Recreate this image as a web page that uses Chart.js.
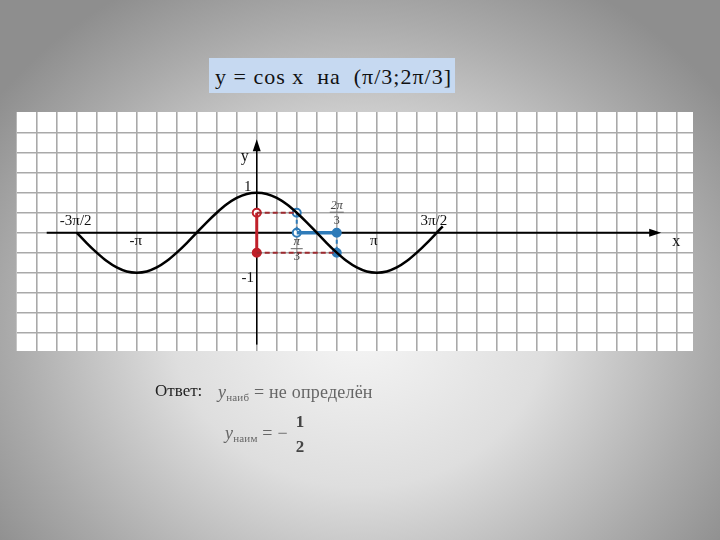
<!DOCTYPE html>
<html>
  <head>
    <meta charset="utf-8">
    <title>y = cos x</title>
    <style>
      body {
        margin: 0;
        width: 720px;
        height: 540px;
        overflow: hidden;
        position: relative;
        font-family: "Liberation Serif", "DejaVu Serif", serif;
        background: radial-gradient(ellipse 62% 72% at 50% 60%, #f6f6f6 0%, #dedede 42%, #ababab 78%, #8e8e8e 100%);
      }

      #chart{
        position: absolute;
        left: 0;
        top: 0;
      }

      .title{
        position: absolute;
        left: 209px;
        top: 58px;
        width: 246px;
        height: 35px;
        background-color: #c6d9f1;
        box-sizing: border-box;
        font-size: 22px;
        letter-spacing: 1px;
        line-height: 37px;
        padding-left: 6px;
        color: #111;
        white-space: pre;
      }

      .answer{
        position: absolute;
        left: 155px;
        top: 381px;
        font-size: 17px;
        color: #222;
      }

      .eq{
        position: absolute;
        font-size: 18px;
        color: #666;
        white-space: nowrap;
        letter-spacing: 0.2px;
      }

      .eq i{ font-size: 18px; }
      .eq sub{ font-size: 11px; vertical-align: -3px; }

      .frac{
        position: absolute;
        left: 294px;
        top: 409px;
        width: 12px;
        text-align: center;
        font-size: 17px;
        font-weight: bold;
        color: #444;
        line-height: 25px;
      }
    </style>
  </head>
  <body>
    <canvas id="chart" width="720" height="540"></canvas>
    <div class="title">y = cos x  на  (π/3;2π/3]</div>
    <div class="answer">Ответ:</div>
    <div class="eq" style="left:218px; top:382px;"><i>y</i><sub>наиб</sub> = не определён</div>
    <div class="eq" style="left:225px; top:423px;"><i>y</i><sub>наим</sub> = −</div>
    <div class="frac">1<br>2</div>

    <script src="https://cdn.jsdelivr.net/npm/chart.js"></script>
    <script>
      // x values are in units of pi
      var curveX = [-1.5, -1.4167, -1.3333, -1.25, -1.1667, -1.0833, -1, -0.9167, -0.8333, -0.75, -0.6667, -0.5833,
                    -0.5, -0.4167, -0.3333, -0.25, -0.1667, -0.0833, 0, 0.0833, 0.1667, 0.25, 0.3333, 0.4167,
                    0.5, 0.5833, 0.6667, 0.75, 0.8333, 0.9167, 1, 1.0833, 1.1667, 1.25, 1.3333, 1.4167, 1.5, 1.55]
      var curveY = [0, -0.26, -0.5, -0.71, -0.87, -0.97, -1, -0.97, -0.87, -0.71, -0.5, -0.26,
                    0, 0.26, 0.5, 0.71, 0.87, 0.97, 1, 0.97, 0.87, 0.71, 0.5, 0.26,
                    0, -0.26, -0.5, -0.71, -0.87, -0.97, -1, -0.97, -0.87, -0.71, -0.5, -0.26, 0, 0.16]

      var intervalX = [1/3, 2/3]
      var intervalY = [0.5, -0.5]

      var xLabelValues = [-1.5, -1, 1, 1.5]
      var xLabelTexts = ['-3π/2', '-π', 'π', '3π/2']
      var yLabelValues = [1, -1]
      var yLabelTexts = ['1', '-1']

      var xMin = -2, xMax = 3.635
      var yMin = -2.96, yMax = 3.02

      var red = '#c0202a'
      var darkRed = '#9c2a2f'
      var blue = '#2f7bb8'

      function seg(x1, y1, x2, y2, color, width, dash) {
        return {
          type: 'line',
          data: [{x: x1, y: y1}, {x: x2, y: y2}],
          borderColor: color,
          borderWidth: width,
          borderDash: dash || [],
          pointRadius: 0,
          fill: false
        }
      }

      function pts(list, color, filled) {
        return {
          type: 'scatter',
          data: list,
          pointRadius: 4,
          pointBorderWidth: 2,
          pointBorderColor: color,
          pointBackgroundColor: filled ? color : '#ffffff'
        }
      }

      // axes, arrows and labels
      const drawAxes = {
        id: 'drawAxes',
        beforeDraw(chart) {
          const {ctx, chartArea} = chart;
          ctx.save();
          ctx.fillStyle = '#ffffff';
          ctx.fillRect(chartArea.left, chartArea.top, chartArea.right - chartArea.left, chartArea.bottom - chartArea.top);
          ctx.restore();
        },
        beforeDatasetsDraw(chart) {
          const {ctx, scales: {x, y}} = chart;
          const x0 = x.getPixelForValue(0);
          const y0 = y.getPixelForValue(0);
          ctx.save();
          ctx.strokeStyle = '#000';
          ctx.fillStyle = '#000';
          ctx.lineWidth = 2;
          ctx.beginPath();
          ctx.moveTo(x.getPixelForValue(-1.75), y0);
          ctx.lineTo(x.getPixelForValue(3.3), y0);
          ctx.stroke();
          ctx.beginPath();
          ctx.moveTo(x.getPixelForValue(3.37), y0);
          ctx.lineTo(x.getPixelForValue(3.37) - 12, y0 - 4);
          ctx.lineTo(x.getPixelForValue(3.37) - 12, y0 + 4);
          ctx.closePath();
          ctx.fill();

          ctx.lineWidth = 1.5;
          ctx.beginPath();
          ctx.moveTo(x0, y.getPixelForValue(-2.8));
          ctx.lineTo(x0, y.getPixelForValue(2.15));
          ctx.stroke();
          ctx.beginPath();
          ctx.moveTo(x0, y.getPixelForValue(2.34));
          ctx.lineTo(x0 - 4, y.getPixelForValue(2.34) + 12);
          ctx.lineTo(x0 + 4, y.getPixelForValue(2.34) + 12);
          ctx.closePath();
          ctx.fill();
          ctx.restore();
        },
        afterDatasetsDraw(chart) {
          const {ctx, scales: {x, y}} = chart;
          const x0 = x.getPixelForValue(0);
          const y0 = y.getPixelForValue(0);
          ctx.save();
          ctx.fillStyle = '#111';
          ctx.textAlign = 'center';
          ctx.textBaseline = 'middle';
          ctx.font = '15px "Liberation Serif"';
          xLabelTexts.forEach(function(t, i) {
            const v = xLabelValues[i];
            const above = Math.abs(v) === 1.5;
            ctx.fillText(t, x.getPixelForValue(v) + (v < 0 ? -1 : -3), y0 + (above ? -12 : 8));
          });
          yLabelTexts.forEach(function(t, i) {
            ctx.fillText(t, x0 - 9, y.getPixelForValue(yLabelValues[i]) + (yLabelValues[i] > 0 ? -6 : 5));
          });
          ctx.font = '16px "Liberation Serif"';
          ctx.fillText('y', x0 - 12, y.getPixelForValue(1.9));
          ctx.fillText('x', x.getPixelForValue(3.495), y0 + 9);

          // small fractions pi/3 and 2pi/3
          ctx.fillStyle = '#444';
          ctx.strokeStyle = '#666';
          ctx.lineWidth = 1;
          ctx.font = 'italic 13px "Liberation Serif"';
          const xa = x.getPixelForValue(intervalX[0]);
          const xb = x.getPixelForValue(intervalX[1]);
          ctx.fillText('π', xa, y0 + 9);
          ctx.beginPath(); ctx.moveTo(xa - 6, y0 + 16); ctx.lineTo(xa + 6, y0 + 16); ctx.stroke();
          ctx.font = '13px "Liberation Serif"';
          ctx.fillText('3', xa, y0 + 24);
          ctx.font = 'italic 12px "Liberation Serif"';
          ctx.fillText('2π', xb, y0 - 27);
          ctx.beginPath(); ctx.moveTo(xb - 7, y0 - 20.5); ctx.lineTo(xb + 7, y0 - 20.5); ctx.stroke();
          ctx.font = '12px "Liberation Serif"';
          ctx.fillText('3', xb, y0 - 12);
          ctx.restore();
        }
      };

      const ctx = document.getElementById('chart');

      const cosChart = new Chart(ctx, {
        type: 'scatter',
        data: {
          datasets: [
            {
              type: 'line',
              data: curveX.map(function(v, i) { return {x: v, y: curveY[i]}; }),
              borderColor: '#000',
              borderWidth: 2.5,
              pointRadius: 0,
              cubicInterpolationMode: 'monotone',
              fill: false
            },
            seg(0, intervalY[0], intervalX[0], intervalY[0], darkRed, 2, [5, 3]),
            seg(0, intervalY[1], intervalX[1], intervalY[1], darkRed, 2, [5, 3]),
            seg(0, intervalY[0], 0, intervalY[1], red, 3),
            seg(intervalX[0], intervalY[0], intervalX[0], 0, blue, 2, [4, 3]),
            seg(intervalX[1], 0, intervalX[1], intervalY[1], blue, 2, [4, 3]),
            seg(intervalX[0], 0, intervalX[1], 0, blue, 3.5),
            pts([{x: 0, y: intervalY[0]}], red, false),
            pts([{x: 0, y: intervalY[1]}], red, true),
            pts([{x: intervalX[0], y: intervalY[0]}, {x: intervalX[0], y: 0}], blue, false),
            pts([{x: intervalX[1], y: 0}, {x: intervalX[1], y: intervalY[1]}], blue, true)
          ]
        },
        options: {
          responsive: false,
          animation: false,
          layout: {
            padding: {left: 16.7, right: 27, top: 112, bottom: 189}
          },
          plugins: {
            legend: {display: false},
            tooltip: {enabled: false}
          },
          scales: {
            x: {
              type: 'linear',
              min: xMin,
              max: xMax,
              afterBuildTicks: function(scale) {
                var t = [];
                for (var k = -11; k <= 21; k++) t.push({value: k / 6});
                scale.ticks = t;
              },
              ticks: {display: false},
              grid: {color: '#a9a9a9', lineWidth: 1.6, drawTicks: false},
              border: {display: false}
            },
            y: {
              type: 'linear',
              min: yMin,
              max: yMax,
              afterBuildTicks: function(scale) {
                var t = [];
                for (var k = -5; k <= 5; k++) t.push({value: k / 2});
                scale.ticks = t;
              },
              ticks: {display: false},
              grid: {color: '#a9a9a9', lineWidth: 1.6, drawTicks: false},
              border: {display: false}
            }
          }
        },
        plugins: [drawAxes]
      });
    </script>
  </body>
</html>
